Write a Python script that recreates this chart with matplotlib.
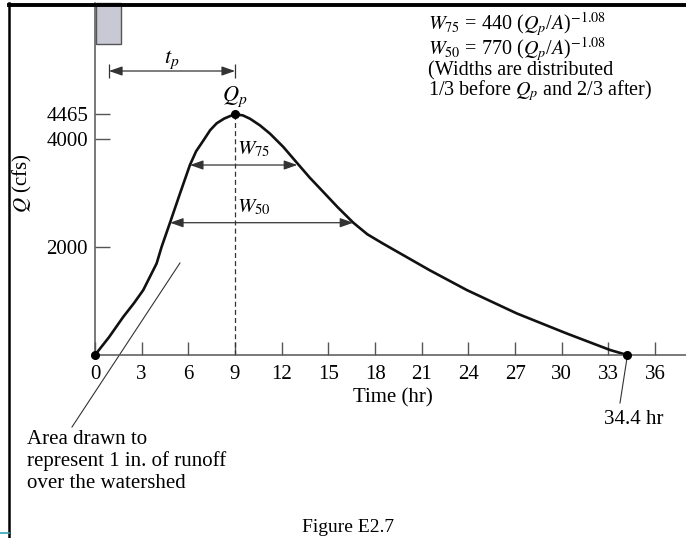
import matplotlib
matplotlib.use("Agg")
import matplotlib.pyplot as plt
from matplotlib.lines import Line2D

plt.rcParams['font.family'] = ['Liberation Serif', 'DejaVu Serif']
plt.rcParams['mathtext.fontset'] = 'stix'

# hydrograph: time (hr), discharge (cfs)
time_hr = [0, 0.9, 1.82, 2.5, 3.1, 3.96, 4.28, 4.82, 5.46, 6.1, 6.5, 6.96, 7.4,
           7.82, 8.3, 8.68, 9.0, 9.5, 9.96, 10.6, 11.25, 12.1, 13.1, 13.8,
           14.67, 15.6, 16.6, 17.5, 18.5, 21.5, 23.9, 27.1, 30.3, 33.1, 34.2]
flow_cfs = [0, 330, 709, 960, 1204, 1698, 2005, 2454, 2994, 3524, 3780, 3976, 4170,
            4298, 4385, 4432, 4465, 4445, 4383, 4260, 4105, 3860, 3524, 3290,
            3025, 2740, 2454, 2240, 2068, 1574, 1204, 772, 401, 93, 0]

peak_t, peak_q = 9.0, 4465
end_t = 34.2
w75_q, w75_left, w75_right = 3524, 6.1, 13.0
w50_q, w50_left, w50_right = 2454, 4.82, 16.6
x_ticks = list(range(0, 37, 3))
y_ticks = [2000, 4000, 4465]
rain_end = 1.65

W, H = 686, 538
fig = plt.figure(figsize=(W / 100, H / 100), dpi=100)
fig.patch.set_facecolor('white')

# axes placed so that hr 0 / 0 cfs sits where the reference origin is
x0, y0, ytop = 95, 355, 3
px_hr, px_cfs = 15.56, 0.05391
ax = fig.add_axes([x0 / W, (H - y0) / H, (W - x0) / W, (y0 - ytop) / H])
ax.set_xlim(0, (W - x0) / px_hr)
ax.set_ylim(0, (y0 - ytop) / px_cfs)
ax.patch.set_alpha(0)
for s in ['top', 'right']:
    ax.spines[s].set_visible(False)
for s in ['left', 'bottom']:
    ax.spines[s].set_color('#555555')
    ax.spines[s].set_linewidth(1.1)

ax.set_xticks(x_ticks)
ax.set_xticklabels([str(t) for t in x_ticks])
ax.set_yticks(y_ticks)
ax.set_yticklabels([str(t) for t in y_ticks])
ax.tick_params(axis='x', direction='in', length=9.5, width=1, color='#555555',
               pad=7, labelsize=15)
ax.tick_params(axis='y', direction='in', length=11, width=1, color='#555555',
               pad=5, labelsize=15)

# rainfall block
top_q = ax.get_ylim()[1]
ax.bar(0.06, top_q - 5763, width=rain_end - 0.06, bottom=5763, align='edge',
       color='#c9c9d6', edgecolor='#555555', linewidth=1, clip_on=False)

# hydrograph
ax.plot(time_hr, flow_cfs, color='#111111', lw=1.9, solid_joinstyle='round',
        clip_on=False)
ax.plot([0, peak_t, end_t], [0, peak_q, 0], 'o', color='black', ms=5.5,
        clip_on=False, zorder=5)
ax.vlines(peak_t, 0, peak_q, colors='#333333', linestyles=(0, (4, 2.5)), lw=0.9)

arrow = dict(arrowstyle='<|-|>,head_length=0.8,head_width=0.28',
             mutation_scale=10, lw=0.9, color='#333333', shrinkA=0, shrinkB=0)
ax.annotate('', xy=(w75_left, w75_q), xytext=(w75_right, w75_q), arrowprops=arrow)
ax.annotate('', xy=(w50_left, w50_q), xytext=(w50_right, w50_q), arrowprops=arrow)
ax.text(peak_t + 0.15, 3820, r'$W_{75}$', fontsize=15, ha='left', va='center')
ax.text(peak_t + 0.15, 2740, r'$W_{50}$', fontsize=15, ha='left', va='center')

# t_p arrow
tp_q = 5268
ax.annotate('', xy=(0.9, tp_q), xytext=(peak_t, tp_q), arrowprops=arrow,
            annotation_clip=False)
ax.vlines([0.9, peak_t], tp_q - 130, tp_q + 130, colors='#333333', lw=0.9)
ax.text(4.95, 5480, r'$t_p$', fontsize=16, ha='center', va='center')
ax.text(peak_t, 4790, r'$Q_p$', fontsize=16, ha='center', va='center')

ax.set_xlabel('Time (hr)', fontsize=15, labelpad=4)
ax.xaxis.set_label_coords((393 - x0) / (W - x0), -(398 - y0) / (y0 - ytop))
ax.xaxis.label.set_va('center')

# leader lines
ax.plot([5.46, -1.48], [1707, -1336], color='#333333', lw=0.8, clip_on=False)
ax.plot([34.19, 33.74], [-56, -890], color='#333333', lw=0.8, clip_on=False)


def ftext(x, y, s, **kw):
    fig.text(x / W, 1 - y / H, s, **kw)


ftext(22, 183, r'$Q$ (cfs)', fontsize=15, rotation=90, ha='center', va='center')
ftext(634, 419, '34.4 hr', fontsize=15, ha='center', va='center')
for y, s in zip([444, 466, 488], ['Area drawn to', 'represent 1 in. of runoff',
                                   'over the watershed']):
    ftext(27, y, s, fontsize=15, ha='left', va='baseline')

formula = '\n'.join([r'$W_{75}$ = 440 ($Q_p$/$A$)$^{-1.08}$',
                     r'$W_{50}$ = 770 ($Q_p$/$A$)$^{-1.08}$',
                     '(Widths are distributed',
                     r'1/3 before $Q_p$ and 2/3 after)'])
ftext(428, 95, formula, fontsize=14.5, ha='left', va='baseline', linespacing=0.85)
ftext(348, 528, 'Figure E2.7', fontsize=14, ha='center', va='center')

# page frame
fig.add_artist(Line2D([8.5 / W, 8.5 / W], [0, 1 - 3 / H], color='black', lw=1.8))
fig.add_artist(Line2D([8.5 / W, 1], [1 - 4.5 / H] * 2, color='black', lw=2.8))
fig.add_artist(Line2D([0, 8.5 / W], [1 - 533 / H] * 2, color='#2fa7b8', lw=1.2))

fig.savefig('out.png', dpi=100)
